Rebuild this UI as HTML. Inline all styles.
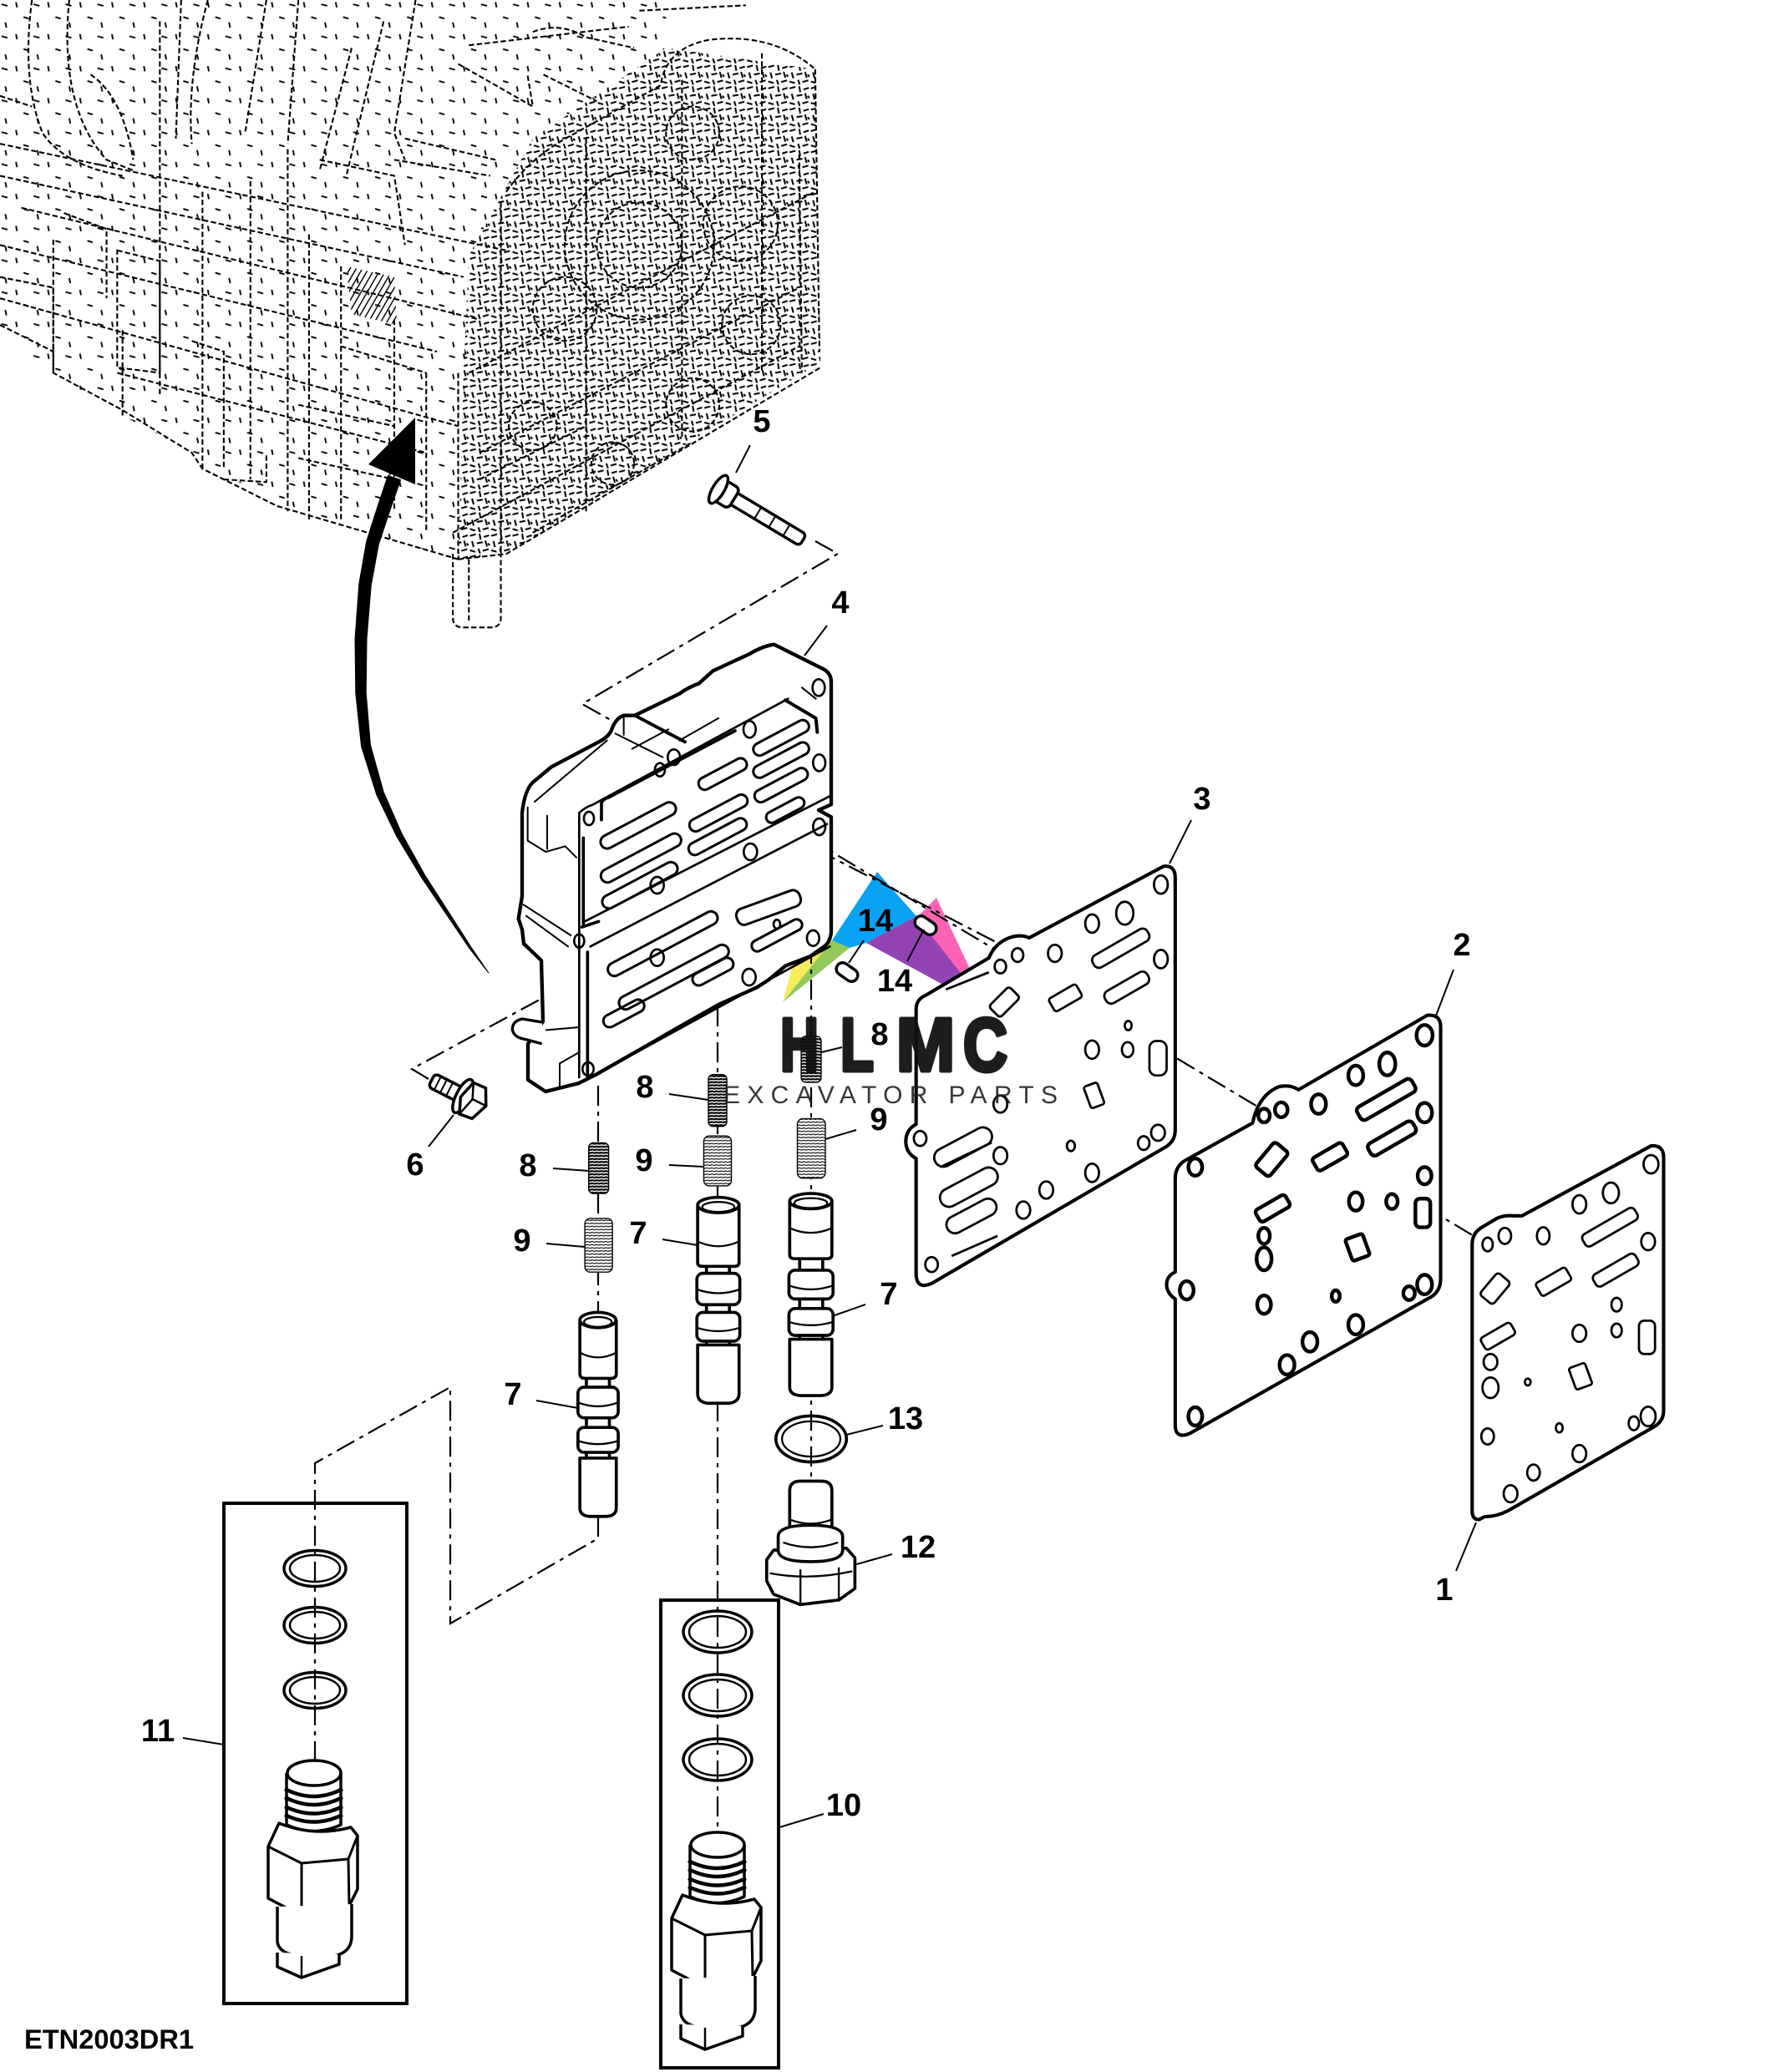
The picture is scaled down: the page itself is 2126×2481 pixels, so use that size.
<!DOCTYPE html>
<html><head><meta charset="utf-8">
<style>
html,body{margin:0;padding:0;background:#fff;}
svg{display:block;}
text{font-family:"Liberation Sans",Arial,sans-serif;}
</style></head><body>
<svg width="2126" height="2481" viewBox="0 0 2126 2481" xmlns="http://www.w3.org/2000/svg">
<defs>
 <pattern id="texD" width="40" height="40" patternUnits="userSpaceOnUse">
  <path d="M2 6 L13 3 M20 2 L22 13 M28 8 L38 5 M6 16 L9 27 M15 20 L26 18 M31 15 L34 26 M2 33 L12 36 M18 30 L21 39 M26 34 L37 31 M36 20 L39 24" stroke="#000" stroke-width="3.2" fill="none"/>
 </pattern>
 <pattern id="texL" width="60" height="60" patternUnits="userSpaceOnUse">
  <path d="M3 8 L14 11 M30 4 L32 14 M44 32 L54 35 M10 42 L12 52" stroke="#000" stroke-width="3" fill="none"/>
 </pattern>
 <pattern id="hatch" width="10" height="10" patternUnits="userSpaceOnUse" patternTransform="rotate(30)">
  <line x1="0" y1="0" x2="0" y2="10" stroke="#000" stroke-width="4.5"/>
 </pattern>
 <pattern id="spr8" width="12" height="8" patternUnits="userSpaceOnUse">
  <rect width="12" height="8" fill="#fff"/>
  <line x1="0" y1="5" x2="12" y2="3" stroke="#000" stroke-width="4.8"/>
 </pattern>
 <pattern id="spr9" width="12" height="8" patternUnits="userSpaceOnUse">
  <rect width="12" height="8" fill="#fff"/>
  <line x1="0" y1="5" x2="12" y2="3" stroke="#000" stroke-width="2.6"/>
 </pattern>
 <g id="sol" fill="#fff" stroke="#000" stroke-linejoin="round">
  <path stroke-width="3.5" d="M343,2123 L343,2185 Q376,2200 408,2185 L408,2123"/>
  <ellipse cx="376" cy="2123" rx="32" ry="15" stroke-width="3.5"/>
  <path fill="none" stroke-width="4.5" d="M341,2142 Q376,2160 410,2142 M341,2152 Q376,2170 410,2152 M341,2163 Q376,2180 410,2163 M341,2173 Q376,2190 410,2173"/>
  <path stroke-width="3.5" d="M321,2211 L334,2183 Q376,2200 420,2188 L428,2198 L428,2262 L418,2282 L361,2294 L321,2273 Z"/>
  <path fill="none" stroke-width="3" d="M321,2211 L361,2231 L417,2226 L428,2198 M361,2231 L361,2294 M417,2226 L418,2282"/>
  <path stroke-width="3.5" d="M332,2283 L332,2325 Q334,2340 360,2342 L400,2342 Q420,2338 421,2320 L421,2280"/>
  <path stroke-width="3.5" d="M332,2338 L332,2355 L361,2368 L406,2352 L406,2340"/>
  <path fill="none" stroke-width="2.5" d="M361,2342 L361,2368"/>
 </g>
</defs>

<!-- colored watermark triangles (under lines) -->
<polygon points="937,1200 963,1102 996,1126" fill="#f6ec5c"/>
<polygon points="937,1200 996,1126 1017,1135" fill="#93c95b"/>
<polygon points="996,1126 1050,1044 1097,1097 1037,1129 1017,1135" fill="#0aa2f2"/>
<polygon points="1121,1075 1097,1099 1184,1209" fill="#ff63b5"/>
<polygon points="1037,1129 1097,1097 1184,1209" fill="#9343b4"/>

<!-- ENGINE (dashed) -->
<g transform="scale(0.6378)">
 <path d="M880,480 L1000,260 L1250,90 L1530,130 L1540,680 L950,1040 L860,1050 L870,700 Z" fill="url(#texD)"/>
 <path d="M0,0 L1250,0 L1250,90 L1000,260 L880,480 L860,1050 L520,950 L360,850 L230,780 L100,700 L0,620 Z" fill="url(#texL)"/>
 <path d="M650,500 L740,520 L745,610 L660,590 Z" fill="url(#hatch)"/>
 <g fill="none" stroke="#000" stroke-width="3.3" stroke-dasharray="10 5">
  <path d="M1530,130 L1538,660 M1500,290 L1505,700"/>
  <path d="M950,360 Q1000,290 1080,250 L1240,160 Q1250,90 1330,75 Q1450,60 1530,130"/>
  <path d="M860,1050 L950,1040 L1540,690 M850,1000 L1500,650 M880,700 L1530,360 M900,850 L1500,540"/>
  <path d="M940,380 L940,1040 M1100,260 L1100,960 M1280,150 L1280,820 M1430,100 L1430,700"/>
  <circle cx="1200" cy="460" r="140"/><circle cx="1200" cy="460" r="80"/>
  <circle cx="1390" cy="420" r="70"/><circle cx="1060" cy="580" r="60"/>
  <circle cx="1410" cy="610" r="55"/><circle cx="1300" cy="760" r="50"/>
  <circle cx="1000" cy="800" r="45"/><circle cx="1150" cy="870" r="40"/>
  <circle cx="1300" cy="250" r="50"/>
  <path d="M860,700 L860,1050 M800,700 L800,1000 M740,600 L740,960 M640,500 L640,980 M580,440 L580,980 M540,280 L540,960 M470,340 L470,900 M380,360 L380,880 M300,280 L300,740 M230,620 L230,780 M100,450 L100,700"/>
  <path d="M0,270 L950,470 M0,330 L870,520 M40,390 L900,600 M0,460 L820,660 M0,560 L860,800 M220,700 L800,850"/>
  <path d="M0,610 L100,660 L100,700 L230,770 L360,850 L380,880 L520,950 L860,1050"/>
  <path d="M850,1040 L850,1160 Q850,1178 870,1178 L920,1178 Q940,1178 940,1160 L940,1040 M880,1050 L880,1170"/>
  <path d="M60,0 Q40,150 80,250 Q120,310 230,330 M130,0 Q110,200 200,300 L250,320 M170,140 Q230,180 250,300"/>
  <path d="M300,40 L300,280 M340,0 L330,260 M390,0 Q350,150 360,270 M500,0 L460,250 M560,0 L540,270 M660,90 L600,320 M720,40 L650,330"/>
  <path d="M880,85 L1180,50 M860,120 L1000,200 L990,140 M760,260 L930,300 M740,300 L920,330 M1020,140 L1120,190 M1200,20 L1400,10"/>
  <path d="M0,520 L100,540 L100,660 M220,470 L300,490 L300,700 L220,690 Z M360,640 L420,660 L420,880 M420,900 L500,905 L500,850"/>
  <path d="M1000,60 Q1050,40 1100,70 L1190,90 M780,0 L740,250 L760,300 M600,300 L740,330 L760,460 M0,180 L60,200 M120,400 L200,430 L200,560"/>
  <path d="M640,650 L800,700 M560,760 L740,800 M560,860 L740,900 M900,900 L1100,800 M1000,1000 L1300,830"/>
 </g>
</g>

<!-- big arrow -->
<polygon fill="#000" stroke="#000" stroke-width="1" stroke-linejoin="round" points="464.4,569.4 451.6,607.6 438.7,648.2 429.8,699.1 425,764.7 425.8,830.3 432.6,894 450.8,951.6 474.9,1001.6 504.9,1051.3 538.5,1101 562,1135.7 585,1165 564,1134.3 541.5,1099 509.1,1048.7 481.1,998.4 459.2,948.4 443.4,892 438.2,829.7 439,765.3 444.2,700.9 453.3,651.8 466.4,612.4 479.6,574.6"/>
<polygon fill="#000" points="497,500 441,556 497,580"/>

<!-- dash-dot construction lines -->
<g fill="none" stroke="#000" stroke-width="2.2" stroke-dasharray="24 7 5 7">
 <path d="M976,648 L1003,663 L697,843 L745,870"/>
 <path d="M745,870 L1781,1490"/>
 <path d="M787,919 L1200,1132"/>
 <path d="M513,1292 L493,1280 L990,1010"/>
 <path d="M716,1300 L716,1842 L539,1944 L539,1661 L377,1752 L377,2110"/>
 <path d="M859,1205 L859,2200"/>
 <path d="M971,1130 L971,1780"/>
</g>

<!-- VALVE BODY (part 4) in zoom10 coords -->
<g transform="translate(560,740) scale(0.33333)" fill="none" stroke="#000" stroke-linejoin="round" stroke-linecap="round">
 <path fill="#fff" stroke-width="13" d="M279,1701 L216,1659 L216,1530 L270,1449 L264,1230 L201,1170 L195,1119 L182,1080 L195,1000 L195,700 Q205,610 240,585 L300,535 L480,440 Q505,425 515,405 Q530,360 560,350 L600,350 L760,272 Q790,250 830,235 L880,190 L1010,130 Q1060,100 1100,95 L1280,185 Q1305,200 1305,230 L1305,670 L1260,690 L1305,715 L1305,1130 Q1300,1165 1280,1180 L1230,1215 L1140,1250 L1080,1300 L1040,1326 L900,1389 L720,1491 L690,1509 L459,1641 L399,1671 Z"/>
 <path fill="#fff" stroke-width="10" d="M268,1452 L195,1440 Q160,1448 160,1478 Q165,1505 200,1512 L262,1528"/>
 <path stroke-width="12" d="M600,350 L780,445 M1140,295 L1250,360 L1255,410"/>
 <path stroke-width="11" d="M415,1100 L415,790 M480,725 L480,665 Q485,650 505,645 L960,405 M410,1110 L470,1090 M430,1650 L430,1200"/>
 <path stroke-width="8" d="M400,700 L400,1650 M400,700 Q420,680 450,670 L1150,290 M420,1090 L1300,640 M460,1640 L1300,1180 M440,1180 L1290,740"/>
 <path stroke-width="6" d="M240,660 L500,440 M530,415 L640,470 M215,680 L215,800 L280,840 L350,820 L390,860 M285,710 L285,830 M200,1030 L370,1140 M210,1070 L360,1180 M400,1560 L330,1600 L330,1680 M282,1480 L400,1470 M590,470 L720,400 M760,440 L900,360 M560,350 L560,420 M620,460 L700,500 M1200,250 L1250,290"/>
 <g stroke-width="9">
  <rect x="-150" y="-24" width="300" height="48" rx="24" transform="translate(612,745) rotate(-28)"/>
  <rect x="-160" y="-24" width="320" height="48" rx="24" transform="translate(622,862) rotate(-28)"/>
  <rect x="-150" y="-24" width="300" height="48" rx="24" transform="translate(618,960) rotate(-28)"/>
  <rect x="-115" y="-22" width="230" height="45" rx="22" transform="translate(900,700) rotate(-28)"/>
  <rect x="-115" y="-22" width="230" height="45" rx="22" transform="translate(897,785) rotate(-28)"/>
  <rect x="-95" y="-22" width="190" height="45" rx="22" transform="translate(915,560) rotate(-28)"/>
  <rect x="-110" y="-22" width="220" height="45" rx="22" transform="translate(1125,430) rotate(-28)"/>
  <rect x="-110" y="-22" width="220" height="45" rx="22" transform="translate(1125,510) rotate(-28)"/>
  <rect x="-105" y="-22" width="210" height="45" rx="22" transform="translate(1125,600) rotate(-28)"/>
  <rect x="-75" y="-20" width="150" height="40" rx="20" transform="translate(1140,690) rotate(-28)"/>
  <rect x="-220" y="-24" width="440" height="48" rx="24" transform="translate(740,1290) rotate(-28)"/>
  <rect x="-220" y="-24" width="440" height="48" rx="24" transform="translate(700,1170) rotate(-28)"/>
  <rect x="-120" y="-30" width="240" height="60" rx="25" transform="translate(1080,1040) rotate(-20)"/>
  <rect x="-100" y="-20" width="200" height="40" rx="20" transform="translate(1110,1140) rotate(-28)"/>
  <rect x="-80" y="-22" width="160" height="45" rx="22" transform="translate(880,1270) rotate(-28)"/>
  <rect x="-80" y="-22" width="160" height="45" rx="22" transform="translate(560,1420) rotate(-28)"/>
 </g>
 <g stroke-width="8">
  <ellipse cx="1260" cy="250" rx="22" ry="30"/><ellipse cx="1262" cy="520" rx="22" ry="30"/>
  <ellipse cx="1262" cy="750" rx="22" ry="30"/><ellipse cx="1012" cy="400" rx="22" ry="30"/>
  <ellipse cx="740" cy="500" rx="22" ry="28"/><ellipse cx="690" cy="545" rx="18" ry="24"/>
  <ellipse cx="435" cy="720" rx="18" ry="24"/><ellipse cx="680" cy="960" rx="24" ry="30"/>
  <ellipse cx="1015" cy="840" rx="24" ry="30"/><ellipse cx="400" cy="1160" rx="18" ry="24"/>
  <ellipse cx="680" cy="1220" rx="24" ry="30"/><ellipse cx="1010" cy="1290" rx="24" ry="30"/>
  <ellipse cx="1240" cy="1150" rx="22" ry="28"/><ellipse cx="1110" cy="1100" rx="12" ry="16"/>
  <ellipse cx="432" cy="1620" rx="20" ry="24"/>
 </g>
</g>

<!-- pins 14 -->
<g fill="#fff" stroke="#000" stroke-width="3.5">
 <rect x="-14" y="-7.5" width="28" height="15" rx="7.5" transform="translate(1108,1108) rotate(35)"/>
 <rect x="-14" y="-7.5" width="28" height="15" rx="7.5" transform="translate(1014,1164) rotate(35)"/>
</g>

<!-- bolt 5 -->
<g transform="translate(860,586) rotate(31)" stroke="#000" stroke-width="3.5" fill="#fff">
 <rect x="18" y="-8" width="100" height="16" rx="5"/>
 <rect x="2" y="-14" width="20" height="28" rx="6"/>
 <ellipse cx="0" cy="0" rx="7" ry="19"/>
 <path d="M55,-8 L55,8 M75,-8 L75,8 M95,-8 L95,8" stroke-width="2" fill="none"/>
</g>

<!-- bolt 6 -->
<g transform="translate(563,1317) rotate(27)" stroke="#000" stroke-width="3.5" fill="#fff">
 <rect x="-52" y="-9" width="44" height="18" rx="5"/>
 <path d="M-44,-9 L-44,9 M-36,-9 L-36,9 M-28,-9 L-28,9" stroke-width="2" fill="none"/>
 <ellipse cx="-10" cy="0" rx="8" ry="22"/>
 <polygon points="-6,-20 10,-21 20,-2 12,19 -4,21 -12,2"/>
 <path d="M-6,-20 L2,-2 L-4,21 M2,-2 L20,-2" fill="none" stroke-width="2.5"/>
</g>

<!-- GASKETS (zoom5 coords) -->
<g transform="translate(1050,900) scale(0.6862)" fill="none" stroke="#000" stroke-linejoin="round">
 <path fill="#fff" stroke-width="6" d="M500,200 Q520,198 520,220 L520,660 Q520,680 503,690 L95,928 Q68,940 68,910 L68,710 Q50,700 50,680 Q50,660 68,650 L68,450 Q68,432 85,425 L195,360 Q205,335 230,325 Q250,318 265,325 L500,200 Z"/>
 <g stroke-width="4">
  <ellipse cx="495" cy="232" rx="12" ry="16"/><ellipse cx="432" cy="282" rx="15" ry="20"/>
  <ellipse cx="375" cy="300" rx="12" ry="16"/><ellipse cx="310" cy="352" rx="12" ry="15"/>
  <ellipse cx="245" cy="355" rx="10" ry="12"/><ellipse cx="215" cy="375" rx="10" ry="12"/>
  <ellipse cx="495" cy="362" rx="12" ry="16"/><ellipse cx="375" cy="520" rx="12" ry="16"/>
  <ellipse cx="437" cy="520" rx="10" ry="13"/><ellipse cx="490" cy="665" rx="12" ry="14"/>
  <ellipse cx="465" cy="683" rx="10" ry="12"/><ellipse cx="375" cy="735" rx="12" ry="16"/>
  <ellipse cx="295" cy="765" rx="12" ry="15"/><ellipse cx="255" cy="800" rx="12" ry="15"/>
  <ellipse cx="215" cy="705" rx="12" ry="15"/><ellipse cx="215" cy="615" rx="12" ry="15"/>
  <ellipse cx="75" cy="675" rx="11" ry="13"/><ellipse cx="95" cy="895" rx="11" ry="13"/>
  <ellipse cx="338" cy="688" rx="7" ry="9"/><ellipse cx="438" cy="478" rx="6" ry="8"/>
  <rect x="-55" y="-12" width="110" height="24" rx="10" transform="translate(425,343) rotate(-30)"/>
  <rect x="-42" y="-12" width="85" height="24" rx="10" transform="translate(435,412) rotate(-30)"/>
  <rect x="-27" y="-13" width="55" height="26" rx="5" transform="translate(328,430) rotate(-30)"/>
  <rect x="-25" y="-14" width="50" height="28" rx="6" transform="translate(222,437) rotate(-45)"/>
  <rect x="-15" y="-30" width="30" height="60" rx="12" transform="translate(490,535)"/>
  <rect x="-12" y="-20" width="25" height="40" rx="4" transform="translate(378,600) rotate(-20)"/>
  <rect x="-55" y="-16" width="110" height="32" rx="16" transform="translate(150,690) rotate(-28)"/>
  <rect x="-55" y="-16" width="110" height="32" rx="16" transform="translate(160,760) rotate(-28)"/>
  <rect x="-48" y="-15" width="95" height="30" rx="15" transform="translate(165,810) rotate(-28)"/>
  <path d="M130,880 L210,845 M120,415 L195,385 M110,725 L200,682"/>
 </g>
 <path fill="#fff" stroke-width="6" d="M960,460 Q983,458 983,480 L983,920 Q983,945 960,955 L545,1190 Q520,1200 520,1175 L520,955 Q505,945 505,930 Q505,915 520,908 L520,745 Q520,722 540,712 L655,648 Q665,600 700,585 Q720,580 735,590 L960,460 Z"/>
 <g stroke-width="6.5">
  <ellipse cx="955" cy="495" rx="14" ry="18"/><ellipse cx="890" cy="545" rx="14" ry="20"/>
  <ellipse cx="835" cy="565" rx="13" ry="17"/><ellipse cx="770" cy="615" rx="13" ry="17"/>
  <ellipse cx="705" cy="625" rx="11" ry="13"/><ellipse cx="675" cy="635" rx="10" ry="12"/>
  <ellipse cx="955" cy="630" rx="13" ry="17"/><ellipse cx="555" cy="725" rx="12" ry="15"/>
  <ellipse cx="955" cy="740" rx="12" ry="15"/><ellipse cx="955" cy="930" rx="13" ry="17"/>
  <ellipse cx="928" cy="945" rx="10" ry="12"/><ellipse cx="835" cy="785" rx="12" ry="16"/>
  <ellipse cx="898" cy="785" rx="10" ry="13"/><ellipse cx="835" cy="1000" rx="13" ry="17"/>
  <ellipse cx="755" cy="1030" rx="13" ry="17"/><ellipse cx="715" cy="1070" rx="13" ry="17"/>
  <ellipse cx="675" cy="965" rx="12" ry="16"/><ellipse cx="675" cy="885" rx="13" ry="20"/>
  <ellipse cx="675" cy="845" rx="10" ry="14"/><ellipse cx="540" cy="940" rx="12" ry="16"/>
  <ellipse cx="555" cy="1160" rx="12" ry="16"/><ellipse cx="800" cy="950" rx="7" ry="10"/>
  <rect x="-55" y="-13" width="110" height="26" rx="8" transform="translate(888,607) rotate(-30)"/>
  <rect x="-45" y="-12" width="90" height="24" rx="8" transform="translate(898,675) rotate(-30)"/>
  <rect x="-30" y="-13" width="60" height="26" rx="6" transform="translate(790,707) rotate(-30)"/>
  <rect x="-27" y="-16" width="55" height="32" rx="6" transform="translate(688,712) rotate(-50)"/>
  <rect x="-30" y="-12" width="60" height="24" rx="6" transform="translate(690,797) rotate(-30)"/>
  <rect x="-16" y="-20" width="32" height="40" rx="4" transform="translate(838,865) rotate(-20)"/>
  <rect x="-13" y="-25" width="26" height="50" rx="8" transform="translate(952,805)"/>
 </g>
 <path fill="#fff" stroke-width="6" d="M1350,688 Q1372,686 1372,708 L1372,1150 Q1372,1170 1352,1180 L1100,1325 Q1080,1335 1060,1335 L1050,1340 Q1038,1340 1038,1325 L1038,860 Q1038,840 1055,830 L1075,818 Q1090,808 1110,810 L1125,810 L1350,688 Z"/>
 <g stroke-width="4">
  <ellipse cx="1350" cy="720" rx="13" ry="16"/><ellipse cx="1280" cy="770" rx="14" ry="18"/>
  <ellipse cx="1225" cy="790" rx="12" ry="16"/><ellipse cx="1162" cy="845" rx="11" ry="15"/>
  <ellipse cx="1095" cy="845" rx="11" ry="14"/><ellipse cx="1065" cy="860" rx="9" ry="12"/>
  <ellipse cx="1345" cy="855" rx="12" ry="15"/><ellipse cx="1290" cy="965" rx="9" ry="12"/>
  <ellipse cx="1290" cy="1010" rx="9" ry="12"/><ellipse cx="1225" cy="1015" rx="12" ry="15"/>
  <ellipse cx="1070" cy="1065" rx="12" ry="14"/><ellipse cx="1070" cy="1110" rx="14" ry="18"/>
  <ellipse cx="1345" cy="1160" rx="13" ry="17"/><ellipse cx="1320" cy="1172" rx="9" ry="12"/>
  <ellipse cx="1225" cy="1225" rx="12" ry="15"/><ellipse cx="1145" cy="1258" rx="11" ry="14"/>
  <ellipse cx="1105" cy="1295" rx="12" ry="15"/><ellipse cx="1065" cy="1195" rx="11" ry="14"/>
  <ellipse cx="1135" cy="1100" rx="5" ry="6"/><ellipse cx="1190" cy="1180" rx="6" ry="8"/>
  <rect x="-52" y="-12" width="105" height="24" rx="8" transform="translate(1278,830) rotate(-30)"/>
  <rect x="-42" y="-12" width="85" height="24" rx="8" transform="translate(1288,905) rotate(-30)"/>
  <rect x="-30" y="-13" width="60" height="26" rx="5" transform="translate(1180,925) rotate(-30)"/>
  <rect x="-25" y="-15" width="50" height="30" rx="6" transform="translate(1078,937) rotate(-50)"/>
  <rect x="-30" y="-12" width="60" height="24" rx="6" transform="translate(1083,1020) rotate(-30)"/>
  <rect x="-15" y="-20" width="30" height="40" rx="4" transform="translate(1227,1090) rotate(-20)"/>
  <rect x="-14" y="-29" width="28" height="58" rx="9" transform="translate(1343,1022)"/>
 </g>
</g>

<!-- spools, springs, o-ring, plug (zoom8 coords) -->
<g transform="translate(600,1250) scale(0.4592)" stroke="#000" stroke-linejoin="round">
 <g stroke-width="3">
  <rect x="228" y="258" width="52" height="132" rx="12" fill="url(#spr8)"/>
  <rect x="540" y="80" width="48" height="135" rx="12" fill="url(#spr8)"/>
  <rect x="782" y="-20" width="52" height="120" rx="12" fill="url(#spr8)"/>
  <rect x="218" y="455" width="72" height="140" rx="14" fill="url(#spr9)"/>
  <rect x="528" y="240" width="72" height="130" rx="14" fill="url(#spr9)"/>
  <rect x="772" y="195" width="73" height="155" rx="14" fill="url(#spr9)"/>
 </g>
 <g fill="#fff" stroke-width="8">
  <rect x="222" y="850" width="60" height="240" />
  <path d="M205,720 L205,860 Q205,872 218,872 L287,872 Q300,872 300,860 L300,720"/>
  <ellipse cx="252" cy="720" rx="47" ry="20"/>
  <rect x="200" y="895" width="105" height="80" rx="16"/>
  <rect x="200" y="1000" width="105" height="65" rx="16"/>
  <path d="M205,1080 L205,1210 Q205,1230 230,1232 L275,1232 Q300,1230 300,1210 L300,1080 Z"/>
  <rect x="535" y="560" width="60" height="230"/>
  <path d="M512,420 L512,570 Q512,580 525,580 L607,580 Q620,580 620,570 L620,420"/>
  <ellipse cx="566" cy="420" rx="54" ry="20"/>
  <rect x="510" y="598" width="112" height="82" rx="16"/>
  <rect x="510" y="700" width="112" height="75" rx="16"/>
  <path d="M512,785 L512,912 Q512,935 540,937 L592,937 Q620,935 620,912 L620,785 Z"/>
  <rect x="778" y="540" width="60" height="240"/>
  <path d="M752,410 L752,550 Q752,560 765,560 L849,560 Q862,560 862,550 L862,410"/>
  <ellipse cx="807" cy="410" rx="55" ry="20"/>
  <rect x="750" y="590" width="115" height="75" rx="16"/>
  <rect x="750" y="690" width="115" height="70" rx="16"/>
  <path d="M752,770 L752,895 Q752,915 780,917 L834,917 Q862,915 862,895 L862,770 Z"/>
  <ellipse cx="808" cy="1030" rx="92" ry="60" fill="none"/>
  <ellipse cx="808" cy="1030" rx="76" ry="46" fill="none" stroke-width="5"/>
  <path d="M752,1300 L752,1165 Q752,1140 780,1140 L835,1140 Q862,1140 862,1165 L862,1300"/>
  <path d="M692,1345 L710,1320 L900,1315 L922,1340 L922,1420 L880,1450 L780,1462 L710,1435 L692,1400 Z"/>
  <path d="M722,1285 Q722,1255 806,1255 Q890,1255 890,1285 L890,1320 Q890,1350 806,1350 Q722,1350 722,1320 Z"/>
 </g>
 <g fill="none" stroke-width="5">
  <ellipse cx="252" cy="725" rx="36" ry="13"/>
  <ellipse cx="566" cy="425" rx="42" ry="13"/>
  <ellipse cx="807" cy="415" rx="43" ry="13"/>
  <path d="M205,805 Q252,830 300,805 M200,935 Q252,955 305,935 M200,1035 Q252,1052 305,1035"/>
  <path d="M512,515 Q566,540 620,515 M510,640 Q566,660 622,640 M510,740 Q566,758 622,740"/>
  <path d="M752,480 Q807,505 862,480 M750,630 Q807,650 865,630 M750,725 Q807,742 865,725"/>
  <path d="M752,1240 Q807,1262 862,1240 M735,1300 Q806,1325 878,1300 M780,1370 L780,1460 M880,1365 L880,1450 M700,1380 Q806,1400 915,1375"/>
 </g>
</g>

<!-- boxes 11 and 10 -->
<g fill="none" stroke="#000">
 <rect x="268" y="1800" width="219" height="599" stroke-width="4"/>
 <rect x="791" y="1916" width="141" height="560" stroke-width="4"/>
 <g stroke-width="3.5">
  <ellipse cx="377" cy="1878" rx="37" ry="21.5"/><ellipse cx="377" cy="1878" rx="30" ry="16" stroke-width="2.5"/>
  <ellipse cx="377" cy="1946" rx="37" ry="21.5"/><ellipse cx="377" cy="1946" rx="30" ry="16" stroke-width="2.5"/>
  <ellipse cx="377" cy="2024" rx="37" ry="21.5"/><ellipse cx="377" cy="2024" rx="30" ry="16" stroke-width="2.5"/>
  <ellipse cx="859" cy="1954" rx="41" ry="25"/><ellipse cx="859" cy="1954" rx="34" ry="19" stroke-width="2.5"/>
  <ellipse cx="859" cy="2030" rx="41" ry="25"/><ellipse cx="859" cy="2030" rx="34" ry="19" stroke-width="2.5"/>
  <ellipse cx="859" cy="2107" rx="41" ry="25"/><ellipse cx="859" cy="2107" rx="34" ry="19" stroke-width="2.5"/>
 </g>
</g>
<use href="#sol"/>
<use href="#sol" transform="translate(483,86)"/>

<!-- leaders -->
<g stroke="#000" stroke-width="2" fill="none">
 <path d="M898,533 L881,566 M990,749 L963,785 M1426,982 L1400,1034 M1740,1161 L1719,1216 M1743,1881 L1767,1823"/>
 <path d="M1034,1126 L1016,1153 M1086,1151 L1106,1113 M1008,1254 L983,1260"/>
 <path d="M801,1310 L848,1317 M801,1395 L842,1397 M793,1484 L835,1491 M1025,1353 L988,1364 M1036,1562 L996,1576"/>
 <path d="M662,1399 L705,1402 M654,1489 L700,1493 M642,1677 L692,1686 M513,1373 L543,1335"/>
 <path d="M1057,1707 L1013,1718 M1068,1861 L1022,1874 M219,2081 L268,2089 M986,2172 L933,2188"/>
</g>

<!-- labels -->
<g font-family="Liberation Sans, Arial, sans-serif" font-weight="bold" font-size="38" fill="#000" text-anchor="middle">
 <text x="912" y="517">5</text>
 <text x="1006" y="734">4</text>
 <text x="1439" y="969">3</text>
 <text x="1750" y="1144">2</text>
 <text x="1729" y="1916">1</text>
 <text x="1048" y="1115">14</text>
 <text x="1071" y="1187">14</text>
 <text x="1053" y="1251">8</text>
 <text x="772" y="1314">8</text>
 <text x="1052" y="1353">9</text>
 <text x="771" y="1402">9</text>
 <text x="632" y="1408">8</text>
 <text x="625" y="1498">9</text>
 <text x="764" y="1489">7</text>
 <text x="1064" y="1562">7</text>
 <text x="614" y="1682">7</text>
 <text x="497" y="1407">6</text>
 <text x="1084" y="1711">13</text>
 <text x="1099" y="1865">12</text>
 <text x="189" y="2085">11</text>
 <text x="1010" y="2174">10</text>
</g>
<text x="29" y="2453" font-family="Liberation Sans, Arial, sans-serif" font-weight="bold" font-size="32" textLength="203" lengthAdjust="spacingAndGlyphs">ETN2003DR1</text>

<!-- watermark text -->
<g font-family="Liberation Sans, Arial, sans-serif" font-weight="bold" font-size="90" fill="#111" stroke="#111" stroke-width="5" stroke-linejoin="round" opacity="0.95">
 <text x="934" y="1282" textLength="46" lengthAdjust="spacingAndGlyphs">H</text>
 <text x="1006" y="1282" textLength="40" lengthAdjust="spacingAndGlyphs">L</text>
 <text x="1073" y="1282" textLength="70" lengthAdjust="spacingAndGlyphs">M</text>
 <text x="1153" y="1282" textLength="53" lengthAdjust="spacingAndGlyphs">C</text>
</g>
<text x="866" y="1321" font-family="Liberation Sans, Arial, sans-serif" font-size="30" fill="#222" opacity="0.9" textLength="400" lengthAdjust="spacing">EXCAVATOR PARTS</text>
</svg>
</body></html>
